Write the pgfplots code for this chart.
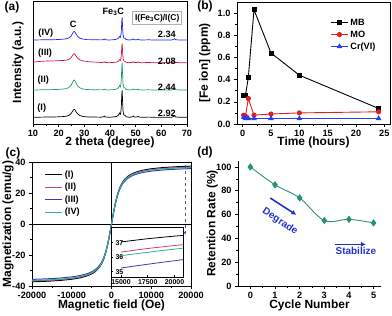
\documentclass[border=0pt]{standalone}
\usepackage{fontspec}
\setmainfont{Liberation Sans}
\usepackage{pgfplots}
\usepackage{pgfplotstable}
\pgfplotsset{compat=1.18}
\usetikzlibrary{arrows.meta}

\definecolor{cgreen}{HTML}{1E9A6E}
\definecolor{cred}{HTML}{D3143C}
\definecolor{cblue}{HTML}{2424E6}
\definecolor{bred}{HTML}{E0201E}
\definecolor{bblue}{HTML}{2A3CF0}
\definecolor{mred}{HTML}{C8407A}
\definecolor{mblue}{HTML}{3A3AB8}
\definecolor{mgreen}{HTML}{30B090}
\definecolor{dgreen}{HTML}{2A9468}
\definecolor{ablue}{HTML}{2233CC}

\newcommand{\tfont}{\bfseries\fontsize{9.2}{10}\selectfont}
\newcommand{\lfont}{\bfseries\fontsize{12}{13}\selectfont}
\newcommand{\sfont}{\bfseries\fontsize{7}{8}\selectfont}

\pgfplotstableread{
x I II III IV
10 6.7 34.0 61.8 84.0
12 6.8 34.1 62.4 84.1
14 6.9 34.2 62.8 84.2
16 6.9 34.3 63.0 84.3
18 7.0 34.4 63.1 84.3
20 7.2 34.6 63.3 84.5
22 7.5 35.0 63.6 84.9
23 7.8 35.4 63.9 85.2
24 8.7 36.5 64.7 86.1
24.8 10.3 38.5 66.2 87.8
25.4 12.7 41.5 68.4 90.4
25.8 14.3 43.5 69.9 92.1
26.1 14.7 44.0 70.3 92.5
26.4 13.9 43.0 69.5 91.7
26.8 12.1 40.8 67.8 89.8
27.4 10.1 38.2 65.8 87.6
28.2 8.5 36.2 64.2 85.9
29.5 7.5 35.0 63.1 84.9
31 7.1 34.5 62.5 84.4
33 6.9 34.3 62.0 84.3
35 6.9 34.2 61.8 84.2
36.5 6.8 34.1 61.5 84.1
37.5 7.2 34.4 61.7 84.4
37.8 7.9 35.0 62.3 85.0
38.1 7.1 34.3 61.6 84.3
39.5 6.7 34.0 61.3 84.0
41 7.0 34.3 61.5 84.2
42.5 7.5 34.8 61.9 84.7
43.3 8.9 36.2 62.8 85.8
43.7 11.0 38.3 64.3 87.6
44.1 9.9 37.2 63.6 86.7
44.4 16.2 43.5 68.0 91.9
44.6 29.7 57.0 77.5 103.1
44.75 33.7 61.0 80.3 106.5
44.9 22.9 50.2 72.7 97.5
45.1 12.6 39.9 65.5 89.0
45.4 9.1 36.4 63.0 86.0
45.9 8.6 35.9 62.6 85.6
46.3 7.2 34.5 61.7 84.5
47.5 6.7 34.0 61.3 84.0
48.8 7.2 34.4 61.7 84.4
49.1 8.0 35.0 62.3 85.0
49.4 7.1 34.3 61.6 84.3
50.5 7.0 34.2 61.5 84.2
51 7.7 34.8 62.1 84.8
51.3 7.0 34.2 61.5 84.2
52.5 6.7 34.0 61.3 84.0
55 6.9 34.2 61.5 84.2
58 6.6 33.9 61.2 83.9
61 6.8 34.1 61.4 84.1
64 6.7 34.0 61.3 84.0
64.8 7.5 34.6 61.9 84.6
65.1 8.5 35.4 62.7 85.4
65.5 7.1 34.3 61.6 84.3
67 6.7 34.0 61.3 84.0
70 6.7 34.0 61.3 84.0
}\tabxrd

\pgfplotstableread{
t MB MO Cr
0.17 0.26 0.08 0.06
0.5 0.26 0.07 0.05
1 0.42 0.23 0.05
2 1.03 0.08 0.05
5 0.64 0.09 0.05
10 0.44 0.10 0.05
24 0.14 0.11 0.05
}\tabfe

\pgfplotstableread{
H I II III IV
-20000 -37.30 -36.74 -35.73 -36.48
-17500 -37.06 -36.50 -35.50 -36.24
-15000 -36.74 -36.19 -35.20 -35.93
-12500 -36.29 -35.75 -34.77 -35.49
-10000 -35.61 -35.08 -34.11 -34.83
-8000 -34.76 -34.24 -33.30 -34.00
-6000 -33.35 -32.85 -31.95 -32.62
-5000 -32.21 -31.73 -30.86 -31.50
-4000 -30.53 -30.07 -29.25 -29.86
-3000 -27.77 -27.35 -26.60 -27.16
-2500 -25.68 -25.29 -24.60 -25.12
-2000 -22.83 -22.49 -21.87 -22.33
-1500 -18.94 -18.66 -18.14 -18.52
-1000 -13.77 -13.56 -13.19 -13.47
-750 -10.69 -10.53 -10.24 -10.46
-500 -7.31 -7.20 -7.00 -7.15
-250 -3.72 -3.66 -3.56 -3.64
0 0 0 0 0
250 3.72 3.66 3.56 3.64
500 7.31 7.20 7.00 7.15
750 10.69 10.53 10.24 10.46
1000 13.77 13.56 13.19 13.47
1500 18.94 18.66 18.14 18.52
2000 22.83 22.49 21.87 22.33
2500 25.68 25.29 24.60 25.12
3000 27.77 27.35 26.60 27.16
4000 30.53 30.07 29.25 29.86
5000 32.21 31.73 30.86 31.50
6000 33.35 32.85 31.95 32.62
8000 34.76 34.24 33.30 34.00
10000 35.61 35.08 34.11 34.83
12500 36.29 35.75 34.77 35.49
15000 36.74 36.19 35.20 35.93
17500 37.06 36.50 35.50 36.24
20000 37.30 36.74 35.73 36.48
}\tabmag

\pgfplotstableread{
H I II III IV
15000 37.05 36.35 35.25 36.10
16000 37.14 36.45 35.36 36.20
17000 37.23 36.55 35.46 36.29
18000 37.31 36.64 35.56 36.38
19000 37.38 36.72 35.66 36.47
20000 37.45 36.80 35.75 36.55
20800 37.50 36.86 35.83 36.62
}\tabinset

\pgfplotstableread{
n R
0 100
1 85
2 74
3 55
4 56
5 53
}\tabret

\pgfplotsset{
  every axis/.append style={
    scale only axis, anchor=south west,
    tick align=outside,
    major tick length=3bp, minor tick length=1.8bp,
    every tick/.style={black, line width=0.6pt},
    axis line style={line width=0.7pt},
    tick label style={font=\tfont},
    label style={font=\lfont},
    /pgf/number format/assume math mode=true,
    /pgf/number format/1000 sep={},
    scaled ticks=false,
    tick pos=left,
  }
}

\begin{document}
\begin{tikzpicture}
\useasboundingbox (0bp,0bp) rectangle (392bp,316bp);

% (a)
\begin{axis}[at={(33bp,192bp)}, width=154bp, height=123bp,
  xmin=10, xmax=70, ymin=0, ymax=123, ytick=\empty,
  xtick={10,20,...,70}, minor x tick num=1,
  xlabel={2 theta (degree)}, ylabel={Intensity (a.u.)},
  xlabel style={at={(axis description cs:0.5,-0.148)}, anchor=center},
  ylabel style={at={(axis description cs:-0.097,0.5)}, anchor=center},
  clip=false]
\addplot[black, line width=0.7pt] table[x=x, y=I] {\tabxrd};
\addplot[cgreen, line width=0.7pt] table[x=x, y=II] {\tabxrd};
\addplot[cred, line width=0.7pt] table[x=x, y=III] {\tabxrd};
\addplot[cblue, line width=0.7pt] table[x=x, y=IV] {\tabxrd};
\node[font=\tfont] at (axis cs:15,91) {(IV)};
\node[font=\tfont] at (axis cs:14.7,71) {(III)};
\node[font=\tfont] at (axis cs:14,44) {(II)};
\node[font=\tfont] at (axis cs:13.4,16) {(I)};
\node[font=\tfont] at (axis cs:25.7,100) {C};
\node[font=\tfont] at (axis cs:41.3,112) {Fe\textsubscript{3}C};
\node[font=\bfseries\fontsize{8.5}{9}\selectfont, draw=gray!60, line width=0.9pt, fill=white, inner sep=2.5pt] at (axis cs:58.4,106) {I(Fe\textsubscript{3}C)/I(C)};
\node[font=\tfont, anchor=east] at (axis cs:67,89.7) {2.34};
\node[font=\tfont, anchor=east] at (axis cs:67,62.3) {2.08};
\node[font=\tfont, anchor=east] at (axis cs:67,36.7) {2.44};
\node[font=\tfont, anchor=east] at (axis cs:67,10.7) {2.92};
\end{axis}

% (b)
\begin{axis}[at={(237bp,192bp)}, width=153bp, height=122bp,
  xmin=-1, xmax=26, ymin=0, ymax=1.1,
  xtick={0,5,...,25}, ytick={0,0.2,...,1.0},
  minor x tick num=1, minor y tick num=1,
  yticklabel style={/pgf/number format/.cd, fixed, fixed zerofill, precision=1},
  xlabel={Time (hours)}, ylabel={[Fe ion] (ppm)},
  xlabel style={at={(axis description cs:0.5,-0.15)}, anchor=center},
  ylabel style={at={(axis description cs:-0.21,0.5)}, anchor=center},
  legend style={at={(0.61,0.88)}, anchor=north west, draw=none, fill=none, font=\tfont, row sep=0pt, inner sep=0pt},
  legend cell align=left]
\addplot[black, line width=0.9pt, mark=square*, mark size=2bp] table[x=t, y=MB] {\tabfe};
\addlegendentry{MB}
\addplot[bred, line width=0.9pt, mark=*, mark size=2.1bp] table[x=t, y=MO] {\tabfe};
\addlegendentry{MO}
\addplot[bblue, line width=0.9pt, mark=triangle*, mark size=2.4bp] table[x=t, y=Cr] {\tabfe};
\addlegendentry{Cr(VI)}
\end{axis}

% (c)
\begin{axis}[at={(32bp,30bp)}, width=159bp, height=124bp,
  xmin=-20000, xmax=20000, ymin=-40, ymax=40,
  xtick={-20000,-10000,0,10000,20000}, ytick={-40,-20,0,20,40},
  minor x tick num=1, minor y tick num=1,
  xlabel={Magnetic field (Oe)}, ylabel={Magnetization (emu/g)},
  xlabel style={at={(axis description cs:0.5,-0.16)}, anchor=center},
  ylabel style={at={(axis description cs:-0.151,0.5)}, anchor=center},
  legend style={at={(0.08,0.95)}, anchor=north west, draw=none, fill=none, font=\tfont, row sep=0.5pt, inner sep=0pt},
  legend cell align=left, legend image post style={line width=1pt},
  clip=false]
\draw[black, line width=0.7pt] (axis cs:-20000,0) -- (axis cs:20000,0);
\draw[black, line width=0.7pt] (axis cs:0,-40) -- (axis cs:0,40);
\addplot[black, line width=1pt, smooth] table[x=H, y=I] {\tabmag};
\addlegendentry{(I)}
\addplot[mred, line width=1pt, smooth] table[x=H, y=II] {\tabmag};
\addlegendentry{(II)}
\addplot[mblue, line width=1pt, smooth] table[x=H, y=III] {\tabmag};
\addlegendentry{(III)}
\addplot[mgreen, line width=1pt, smooth] table[x=H, y=IV] {\tabmag};
\addlegendentry{(IV)}
\draw[dashed, gray!60!blue, line width=0.7pt, -{Latex[length=3bp,width=3bp]}] (axis cs:18500,38) -- (axis cs:18500,-7);
\end{axis}

% inset
\begin{axis}[at={(111bp,39bp)}, width=72bp, height=50bp,
  xmin=14060, xmax=20800, ymin=34.63, ymax=38.08,
  xtick={15000,17500,20000}, ytick={35,36,37},
  tick pos=left, tick align=inside,
  major tick length=2bp,
  tick label style={font=\sfont},
  yticklabel style={anchor=west, xshift=1bp},
  xticklabel style={yshift=1bp},
  axis line style={line width=0.6pt},
  axis background/.style={fill=white}]
\addplot[black, line width=0.8pt] table[x=H, y=I] {\tabinset};
\addplot[mred, line width=0.8pt] table[x=H, y=II] {\tabinset};
\addplot[mblue, line width=0.8pt] table[x=H, y=III] {\tabinset};
\addplot[mgreen, line width=0.8pt] table[x=H, y=IV] {\tabinset};
\end{axis}

% (d)
\begin{axis}[at={(238bp,30bp)}, width=143bp, height=125bp,
  xmin=-0.5, xmax=5.3, ymin=0, ymax=105,
  axis x line*=bottom, axis y line*=left,
  xtick={0,...,5}, ytick={0,20,...,100},
  minor x tick num=1, minor y tick num=1,
  xlabel={Cycle Number}, ylabel={Retention Rate (\%)},
  xlabel style={at={(axis description cs:0.5,-0.155)}, anchor=center},
  ylabel style={at={(axis description cs:-0.18,0.5)}, anchor=center},
  clip=false]
\addplot[dgreen, line width=0.9pt, smooth, tension=0.55, mark=diamond*, mark size=3bp] table[x=n, y=R] {\tabret};
\draw[ablue, line width=1.6pt, -{Latex[length=5bp,width=5bp]}] (axis cs:0.81,73.9) -- (axis cs:1.87,59.7);
\node[font=\bfseries\fontsize{10}{11}\selectfont, text=ablue, rotate=-33] at (axis cs:1.2,54) {Degrade};
\draw[ablue, line width=1.6pt, -{Latex[length=5bp,width=5bp]}] (axis cs:3.43,35) -- (axis cs:4.69,35);
\node[font=\bfseries\fontsize{10}{11}\selectfont, text=ablue] at (axis cs:4.28,29.5) {Stabilize};
\end{axis}

\node[font=\lfont] at (12bp,309bp) {(a)};
\node[font=\lfont] at (205bp,310bp) {(b)};
\node[font=\lfont] at (13bp,163bp) {(c)};
\node[font=\lfont] at (205bp,164bp) {(d)};
\end{tikzpicture}
\end{document}
